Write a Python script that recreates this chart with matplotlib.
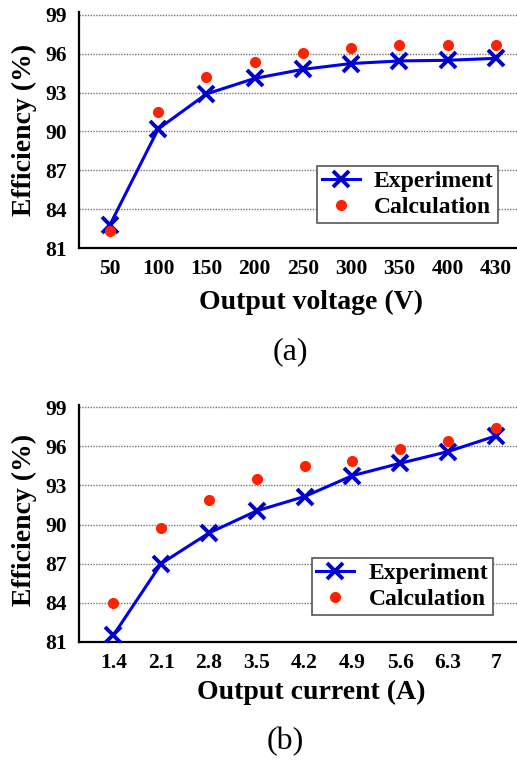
import matplotlib.pyplot as plt
import numpy as np

# (a) efficiency vs output voltage
voltage_labels = ['50', '100', '150', '200', '250', '300', '350', '400', '430']
exp_a = [82.8, 90.2, 92.9, 94.1, 94.8, 95.25, 95.45, 95.5, 95.65]
calc_a = [82.35, 91.5, 94.2, 95.4, 96.1, 96.45, 96.65, 96.65, 96.7]

# (b) efficiency vs output current
current_labels = ['1.4', '2.1', '2.8', '3.5', '4.2', '4.9', '5.6', '6.3', '7']
exp_b = [81.5, 87.0, 89.35, 91.05, 92.15, 93.75, 94.7, 95.6, 96.8]
calc_b = [84.0, 89.7, 91.9, 93.5, 94.5, 94.9, 95.8, 96.4, 97.4]

yticks = [81, 84, 87, 90, 93, 96, 99]

W, H = 517, 762
plt.rcParams['font.family'] = ['Liberation Serif', 'DejaVu Serif']

fig = plt.figure(figsize=(W / 100, H / 100), dpi=100)


def px(x, y):
    return x / W, 1 - y / H


def draw_panel(rect, labels, exp, calc, xlim, legend_anchor):
    ax = fig.add_axes(rect)
    x = np.arange(len(labels))
    for g in yticks[1:]:
        ax.axhline(g, color='#777777', lw=1.0, ls=(0, (1, 1)), zorder=1, clip_on=False)
    ax.plot(x, exp, color='#0000ee', lw=2.2, marker='x', ms=12, mew=2.8,
            mec='#0000cc', label='Experiment', zorder=3)
    ax.plot(x, calc, ls='none', marker='o', ms=7, color='#ff2200',
            mec='#ff2200', label='Calculation', zorder=4)
    ax.set_xlim(*xlim)
    ax.set_ylim(81, 99.2)
    ax.set_xticks(x)
    ax.set_xticklabels(labels)
    ax.set_yticks(yticks)
    ax.tick_params(length=0, labelsize=15.5, pad=8)
    ax.tick_params(axis='y', pad=9)
    for t in ax.get_xticklabels() + ax.get_yticklabels():
        t.set_fontweight('bold')
    for s in ['top', 'right']:
        ax.spines[s].set_visible(False)
    for s in ['left', 'bottom']:
        ax.spines[s].set_linewidth(1.6)
        ax.spines[s].set_color('black')
    leg = ax.legend(loc='lower right', bbox_to_anchor=legend_anchor,
                    fancybox=False, framealpha=1, edgecolor='#555555',
                    prop={'weight': 'bold', 'size': 17}, handlelength=1.6,
                    borderpad=0.2, labelspacing=0.2, handletextpad=0.6,
                    borderaxespad=0)
    leg.get_frame().set_linewidth(1.2)
    return ax


# top panel
l, b = px(79, 248)
_, t = px(79, 12.4)
draw_panel([l, b, 1 - l, t - b], voltage_labels, exp_a, calc_a,
           (-0.643, 8.44), (0.957, 0.106))
fig.text(*px(311, 302), 'Output voltage (V)', ha='center', va='center',
         fontsize=20, fontweight='bold')
fig.text(*px(24, 130), 'Efficiency (%)', ha='center', va='center',
         fontsize=20, fontweight='bold', rotation=90)
fig.text(*px(290, 352), '(a)', ha='center', va='center', fontsize=23)

# bottom panel
l, b = px(79, 641.7)
_, t = px(79, 404.7)
draw_panel([l, b, 1 - l, t - b], current_labels, exp_b, calc_b,
           (-0.72, 8.445), (0.945, 0.113))
fig.text(*px(311, 692), 'Output current (A)', ha='center', va='center',
         fontsize=20, fontweight='bold')
fig.text(*px(24, 520), 'Efficiency (%)', ha='center', va='center',
         fontsize=20, fontweight='bold', rotation=90)
fig.text(*px(285, 742), '(b)', ha='center', va='center', fontsize=23)

fig.savefig('out.png', dpi=100)
